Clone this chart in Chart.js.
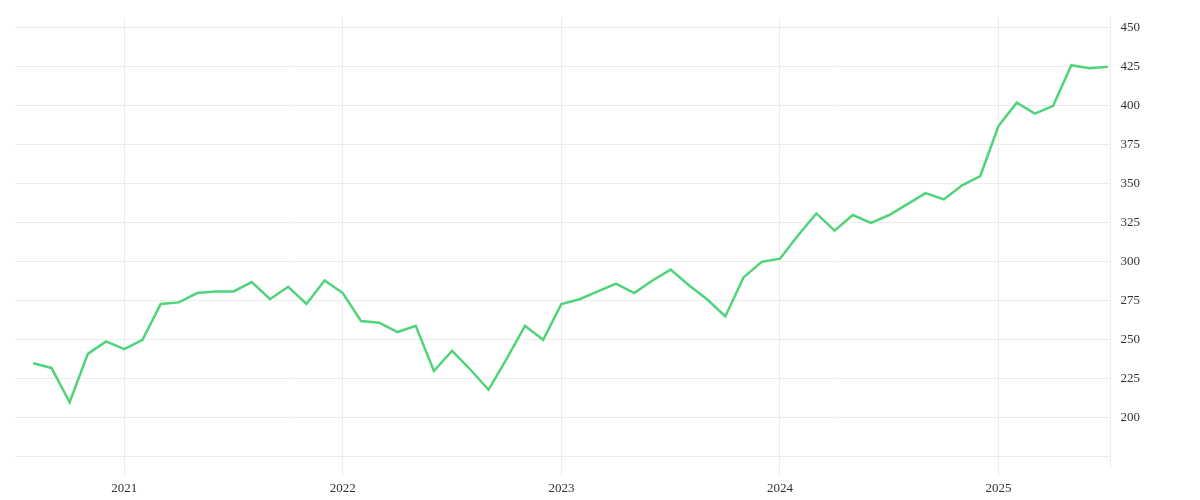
<!DOCTYPE html>
<html>
<head>
<meta charset="utf-8">
<script src="https://cdn.jsdelivr.net/npm/chart.js@4"></script>
<style>
  html, body { margin: 0; padding: 0; background: #fff; }
  #wrap { width: 1200px; height: 500px; }
</style>
</head>
<body>
<div id="wrap"><canvas id="chart"></canvas></div>
<script>
// monthly values, Aug 2020 .. Jul 2025
var values = [
    235, 232, 210, 241, 249,
    244, 250, 273, 274, 280, 281, 281, 287, 276, 284, 273, 288,
    280, 262, 261, 255, 259, 230, 243, 231, 218, 238, 259, 250,
    273, 276, 281, 286, 280, 288, 295, 285, 276, 265, 290, 300,
    302, 317, 331, 320, 330, 325, 330, 337, 344, 340, 349, 355,
    387, 402, 395, 400, 426, 424, 425
];
var yearLabels = ['2021', '2022', '2023', '2024', '2025'];
var yearPositions = [5, 17, 29, 41, 53];
var yTicks = [175, 200, 225, 250, 275, 300, 325, 350, 375, 400, 425, 450];

var points = values.map(function (v, i) { return { x: i, y: v }; });

Chart.defaults.font.family = '"Liberation Serif", "DejaVu Serif", serif';
Chart.defaults.font.size = 13;
Chart.defaults.color = '#333';

new Chart(document.getElementById('chart').getContext('2d'), {
    type: 'line',
    data: {
        datasets: [{
            data: points,
            borderColor: '#4fd47a',
            borderWidth: 2.5,
            pointRadius: 0,
            tension: 0,
            fill: false
        }]
    },
    options: {
        responsive: true,
        maintainAspectRatio: false,
        animation: false,
        layout: { padding: { left: 15, top: 10, right: 50, bottom: 0 } },
        plugins: { legend: { display: false }, tooltip: { enabled: false } },
        scales: {
            x: {
                type: 'linear',
                min: -1,
                max: 59.15,
                afterBuildTicks: function (axis) {
                    axis.ticks = yearPositions.map(function (p) { return { value: p }; });
                },
                ticks: {
                    autoSkip: false,
                    maxRotation: 0,
                    padding: 4,
                    callback: function (v) {
                        var i = yearPositions.indexOf(v);
                        return i >= 0 ? yearLabels[i] : '';
                    }
                },
                grid: { color: '#ececec', drawTicks: true, tickLength: 8 },
                border: { display: false }
            },
            y: {
                position: 'right',
                min: 167.6,
                max: 456.4,
                afterBuildTicks: function (axis) {
                    axis.ticks = yTicks.map(function (t) { return { value: t }; });
                },
                ticks: {
                    padding: 10,
                    callback: function (v) { return v === 175 ? '' : String(v); }
                },
                grid: { color: '#ececec', drawTicks: false },
                border: { display: true, color: '#ececec' }
            }
        }
    }
});
</script>
</body>
</html>
